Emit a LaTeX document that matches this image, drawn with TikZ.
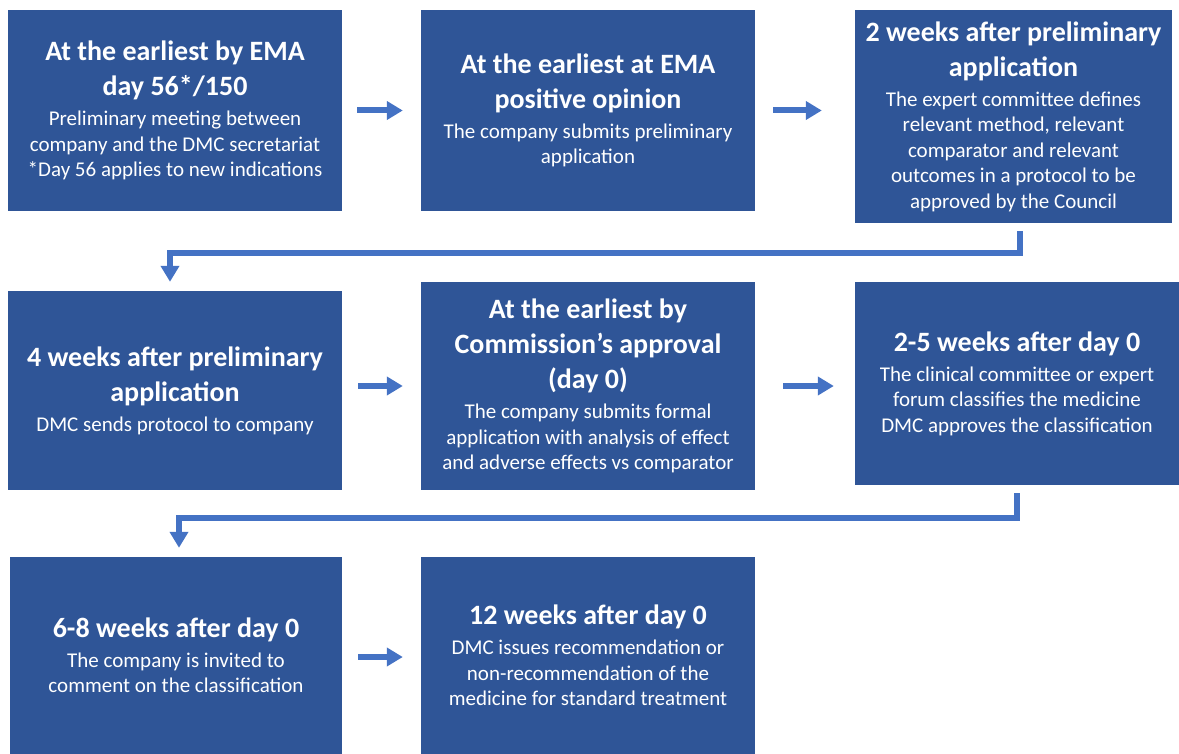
\documentclass[tikz,border=0pt]{standalone}
\usepackage{fontspec}
\setmainfont{Carlito}
\usetikzlibrary{arrows.meta}
\definecolor{boxblue}{HTML}{2F5597}
\definecolor{arrowblue}{HTML}{4472C4}
\newcommand{\hd}[1]{{\fontsize{28}{35}\selectfont\bfseries #1}}
\newcommand{\boxfont}{\fontsize{21}{25.5}\selectfont\setlength{\lineskiplimit}{-50pt}}
\begin{document}
\begin{tikzpicture}[x=1pt,y=-1pt,
  stepbox/.style={rectangle,fill=boxblue,text=white,align=center,inner sep=0pt,font=\boxfont},
  flow/.style={draw=arrowblue,line width=6pt,-{Triangle[width=18pt,length=16pt]}}]
\useasboundingbox (0,0) rectangle (1179,754);
\node[stepbox,minimum width=334pt,minimum height=201pt] (ema) at (175,110.5)
  {\hd{At the earliest by EMA}\\[9.5pt]\hd{day 56*/150}\\[4.5pt]Preliminary meeting between\\company and the DMC secretariat\\*Day 56 applies to new indications};
\node[stepbox,minimum width=334pt,minimum height=201pt] (opinion) at (588,110.5)
  {\hd{At the earliest at EMA}\\[9.5pt]\hd{positive opinion}\\[4.5pt]The company submits preliminary\\application};
\node[stepbox,minimum width=317pt,minimum height=213pt] (protocol) at (1013.5,116.5)
  {\hd{2 weeks after preliminary}\\[9.5pt]\hd{application}\\[4.5pt]The expert committee defines\\relevant method, relevant\\comparator and relevant\\outcomes in a protocol to be\\approved by the Council};
\node[stepbox,minimum width=334pt,minimum height=199pt] (sendprot) at (175,390.5)
  {\hd{4 weeks after preliminary}\\[9.5pt]\hd{application}\\[4.5pt]DMC sends protocol to company};
\node[stepbox,minimum width=334pt,minimum height=208pt] (approval) at (588,386)
  {\hd{At the earliest by}\\[9.5pt]\hd{Commission’s approval}\\[9.5pt]\hd{(day 0)}\\[4.5pt]The company submits formal\\application with analysis of effect\\and adverse effects vs comparator};
\node[stepbox,minimum width=324pt,minimum height=203pt] (classify) at (1017,383.5)
  {\hd{2-5 weeks after day 0}\\[4.5pt]The clinical committee or expert\\forum classifies the medicine\\DMC approves the classification};
\node[stepbox,minimum width=332pt,minimum height=197pt] (comment) at (176,655.5)
  {\hd{6-8 weeks after day 0}\\[4.5pt]The company is invited to\\comment on the classification};
\node[stepbox,minimum width=334pt,minimum height=197pt] (recommend) at (588,655.5)
  {\hd{12 weeks after day 0}\\[4.5pt]DMC issues recommendation or\\non-recommendation of the\\medicine for standard treatment};
\draw[flow] ([xshift=15pt]ema.east) -- ([xshift=-18pt]opinion.west);
\draw[flow] ([xshift=18pt]opinion.east) -- ([xshift=-33pt]opinion.east -| protocol.west);
\draw[flow] ([xshift=6pt,yshift=-8pt]protocol.south) -- ++(0,22) -| ([xshift=-5pt,yshift=9pt]sendprot.north);
\draw[flow] ([xshift=16pt]approval.west -| sendprot.east) -- ([xshift=-18pt]approval.west);
\draw[flow] ([xshift=28pt]approval.east) -- ([xshift=-21pt]approval.east -| classify.west);
\draw[flow] ([yshift=-8pt]classify.south) -- ++(0,25) -| ([xshift=3pt,yshift=9pt]comment.north);
\draw[flow] ([xshift=16pt,yshift=-1.5pt]comment.east) -- ([xshift=-18pt,yshift=-1.5pt]recommend.west);
\end{tikzpicture}
\end{document}
